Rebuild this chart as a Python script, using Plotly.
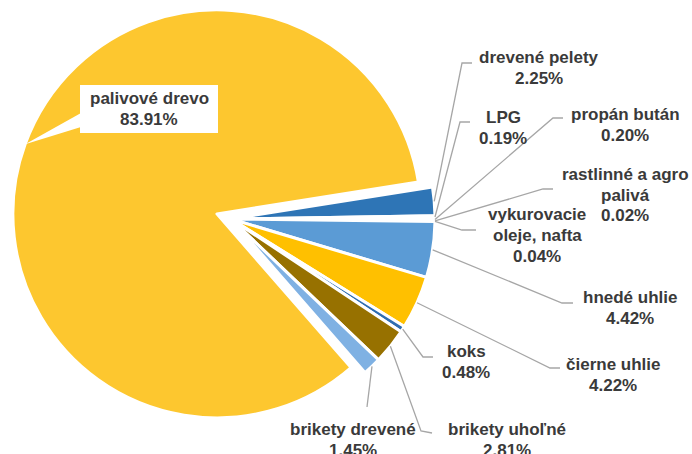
import math
import plotly.graph_objects as go

# Heating fuel shares (%), listed clockwise starting just above 3 o'clock
fuels = [
    "drevené pelety", "LPG", "propán bután", "rastlinné a agro palivá",
    "vykurovacie oleje, nafta", "hnedé uhlie", "čierne uhlie", "koks",
    "brikety uhoľné", "brikety drevené", "palivové drevo",
]
shares = [2.25, 0.19, 0.20, 0.02, 0.04, 4.42, 4.22, 0.48, 2.81, 1.45, 83.91]
label_lines = [
    ["drevené pelety", "2.25%"],
    ["LPG", "0.19%"],
    ["propán bután", "0.20%"],
    ["rastlinné a agro", "palivá", "0.02%"],
    ["vykurovacie", "oleje, nafta", "0.04%"],
    ["hnedé uhlie", "4.42%"],
    ["čierne uhlie", "4.22%"],
    ["koks", "0.48%"],
    ["brikety uhoľné", "2.81%"],
    ["brikety drevené", "1.45%"],
    ["palivové drevo", "83.91%"],
]
colors = [
    "#2E75B6", "#A5A5A5", "#ED7D31", "#70AD47", "#264478", "#5B9BD5",
    "#FFC000", "#2F6DB0", "#977100", "#7FB1E3", "#FDC72F",
]
pulls = [0, 0, 0, 0, 0, 0, 0, 0, 0, 0, 0.0735]

W, H = 692, 454
ROTATION = 81
DOM_X = [0.0, 0.6676]
DOM_Y = [1 - 438 / H, 1.0]
LINE_GAP = 21  # px between text lines

# label block centres and leader-line elbows, in pixels
label_pos = [
    (539, 68), (503, 128), (625, 125), (625, 195), (537, 235),
    (630, 308), (613, 375), (466, 362), (507, 440), (353, 440), (149, 109),
]
elbows = [
    [(462, 63), (472, 63)],
    [(460, 122), (470, 122)],
    [(553, 118), (563, 118)],
    [(543, 189), (553, 189)],
    [(462, 230), (476, 230)],
    [(562, 303), (573, 303)],
    [(550, 368), (560, 368)],
    [(423, 357), (433, 357)],
    [(421, 431), (432, 433)],
    [(367, 407)],
    None,
]

fig = go.Figure(go.Pie(
    labels=fuels,
    values=shares,
    sort=False,
    direction="clockwise",
    rotation=ROTATION,
    pull=pulls,
    marker=dict(colors=colors, line=dict(color="white", width=3)),
    textinfo="none",
    hoverinfo="label+percent",
    domain=dict(x=DOM_X, y=DOM_Y),
    showlegend=False,
))

# pie geometry (same rules plotly uses to size a pie in its domain)
box_w = W * (DOM_X[1] - DOM_X[0])
box_h = H * (DOM_Y[1] - DOM_Y[0])
radius = min(box_w, box_h) / (2 + 2 * max(pulls))
cx = W * (DOM_X[0] + DOM_X[1]) / 2
cy = H * (2 - DOM_Y[0] - DOM_Y[1]) / 2


def px(x, y):
    return x / W, 1 - y / H


def path_of(points, close=False):
    out = ""
    for k, (x, y) in enumerate(points):
        u, w = px(x, y)
        out += ("M" if k == 0 else " L") + f" {u:.5f} {w:.5f}"
    return out + (" Z" if close else "")


total = sum(shares)
angle = 90 - ROTATION
edge_points = []
for v, p in zip(shares, pulls):
    span = 360 * v / total
    mid = math.radians(angle - span / 2)
    angle -= span
    off = p * radius
    ox, oy = cx + off * math.cos(mid), cy - off * math.sin(mid)
    edge_points.append((ox + radius * math.cos(mid), oy - radius * math.sin(mid)))

shapes = []
annotations = []
font = dict(family="Arial, Liberation Sans, sans-serif", size=17,
            color="#3A3A3A", weight="bold")

for i, lines in enumerate(label_lines):
    lx, ly = label_pos[i]
    if elbows[i] is not None:
        shapes.append(dict(type="path", path=path_of([edge_points[i]] + elbows[i]),
                           xref="paper", yref="paper",
                           line=dict(color="#A6A6A6", width=1.3)))
    else:
        # white callout box with a pointer onto the slice
        shapes.append(dict(type="path",
                           path=path_of([(81, 113), (81, 127), edge_points[i]], close=True),
                           xref="paper", yref="paper",
                           fillcolor="white", line=dict(width=0)))
        x0, y1 = px(80, 85)
        x1, y0 = px(218, 133)
        shapes.append(dict(type="rect", x0=x0, x1=x1, y0=y0, y1=y1,
                           xref="paper", yref="paper",
                           fillcolor="white", line=dict(width=0)))
    n = len(lines)
    for k, line in enumerate(lines):
        ax, ay = px(lx, ly + (k - (n - 1) / 2) * LINE_GAP)
        annotations.append(dict(x=ax, y=ay, xref="paper", yref="paper", text=line,
                                showarrow=False, xanchor="center", yanchor="middle",
                                align="center", font=font))

fig.update_layout(
    width=W, height=H,
    margin=dict(l=0, r=0, t=0, b=0),
    paper_bgcolor="white",
    plot_bgcolor="white",
    shapes=shapes,
    annotations=annotations,
)

fig.write_html("out.html")
